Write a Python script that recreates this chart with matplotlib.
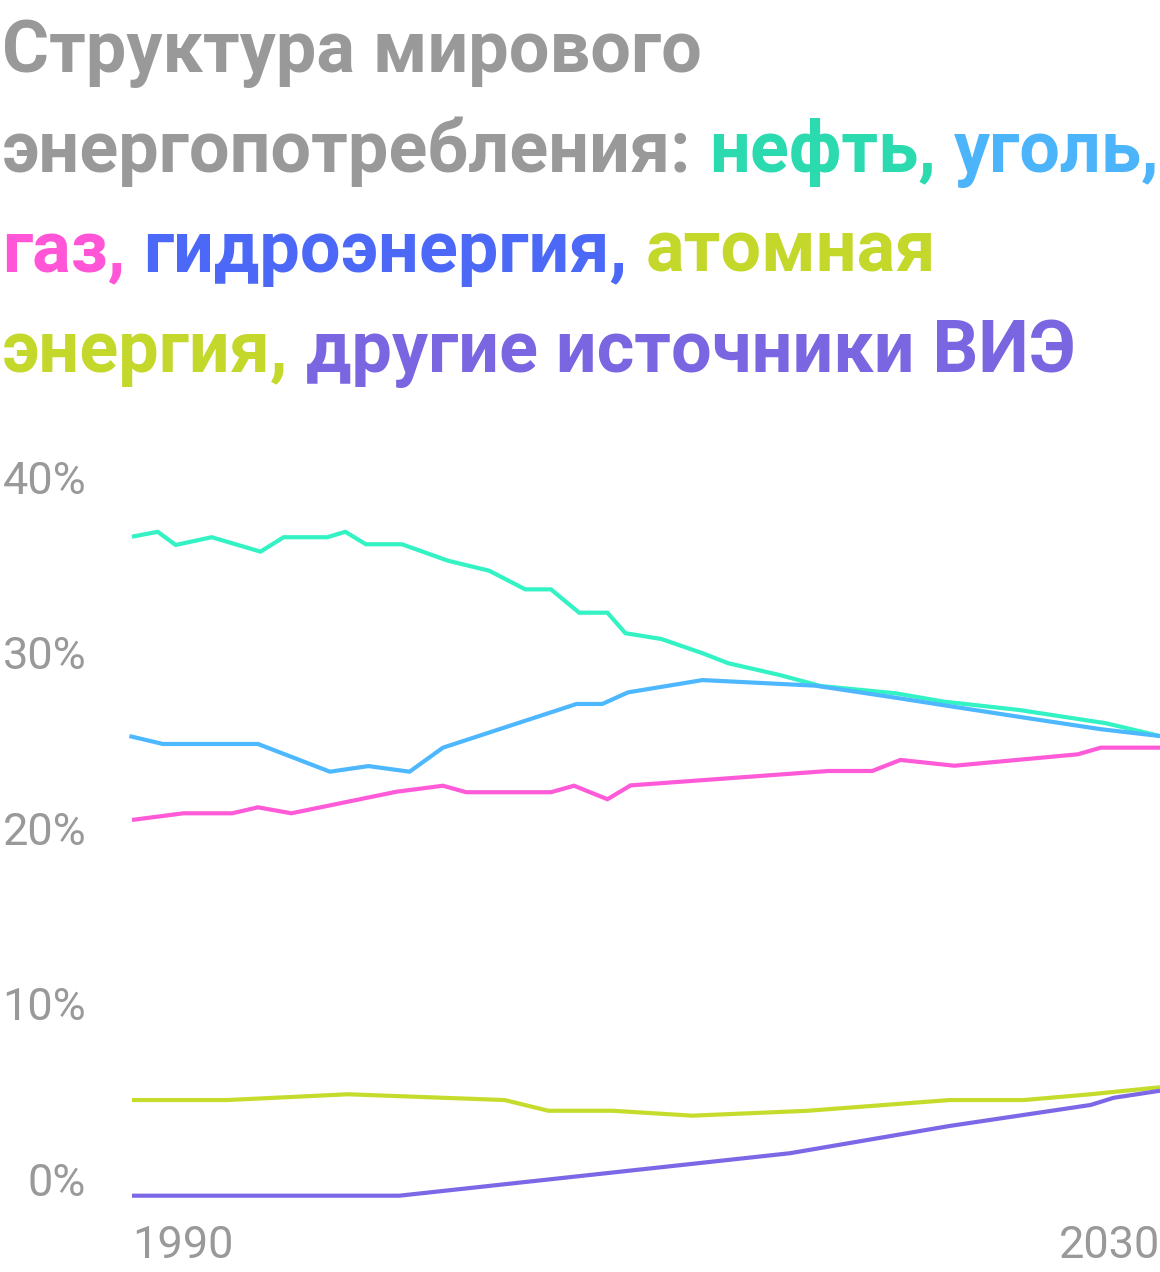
import matplotlib
matplotlib.use("Agg")
import matplotlib.pyplot as plt

# ---------------- data (share of world energy consumption, %) ----------------
oil_years = [1990.0, 1991.0, 1991.7, 1993.1, 1995.0, 1995.9, 1997.6, 1998.3, 1999.1,
             2000.5, 2002.3, 2003.9, 2005.3, 2006.3, 2007.4, 2008.5, 2009.2, 2010.6,
             2012.2, 2013.2, 2015.2, 2016.8, 2019.7, 2021.6, 2024.5, 2027.9, 2030.0]
oil = [37.55, 37.83, 37.08, 37.52, 36.70, 37.52, 37.52, 37.83, 37.12,
       37.12, 36.18, 35.61, 34.55, 34.55, 33.22, 33.22, 32.05, 31.72,
       30.91, 30.34, 29.67, 29.04, 28.63, 28.15, 27.68, 26.92, 26.19]

coal_years = [1989.9, 1991.2, 1994.9, 1997.7, 1999.2, 2000.8, 2002.1, 2007.3, 2008.3,
              2009.3, 2012.2, 2016.6, 2019.6, 2022.1, 2024.9, 2027.7, 2030.0]
coal = [26.19, 25.74, 25.74, 24.16, 24.48, 24.16, 25.53, 28.02, 28.02,
        28.68, 29.38, 29.06, 28.40, 27.83, 27.20, 26.58, 26.19]

gas_years = [1990.0, 1992.0, 1993.9, 1994.9, 1996.2, 2000.3, 2002.1, 2003.0, 2006.3,
             2007.2, 2008.5, 2009.4, 2017.1, 2018.8, 2019.9, 2022.0, 2026.8, 2027.7, 2030.0]
gas = [21.41, 21.79, 21.79, 22.13, 21.79, 23.02, 23.36, 22.99, 22.99,
       23.36, 22.59, 23.38, 24.20, 24.20, 24.83, 24.50, 25.15, 25.53, 25.53]

nuclear_years = [1990.0, 1993.7, 1998.4, 2004.5, 2006.2, 2008.7, 2011.8, 2016.3,
                 2021.8, 2024.7, 2027.3, 2030.0]
nuclear = [5.45, 5.45, 5.78, 5.45, 4.84, 4.84, 4.56, 4.84, 5.45, 5.45, 5.78, 6.18]

renew_years = [1990.0, 2000.4, 2015.6, 2021.8, 2027.3, 2028.2, 2030.0]
renew = [0.0, 0.0, 2.42, 3.97, 5.17, 5.58, 5.98]

y_ticks = [0, 10, 20, 30, 40]
y_tick_labels = ["0%", "10%", "20%", "30%", "40%"]
x_ticks = [1990, 2030]
x_tick_labels = ["1990", "2030"]

# ---------------- style ----------------
W, H, DPI = 1160, 1272, 100
GRAY = "#999999"
C_OIL_T, C_OIL = "#2cdab0", "#33f2c4"
C_COAL_T, C_COAL = "#4cb4fb", "#4db8ff"
C_GAS_T, C_GAS = "#ff55d6", "#ff5ad8"
C_HYDRO_T = "#4b68f6"
C_NUC_T, C_NUC = "#c3d82a", "#c5dc2c"
C_REN_T, C_REN = "#7a66e0", "#7b68e6"
FONT = ["Roboto", "DejaVu Sans"]

plt.rcParams["font.family"] = FONT

fig = plt.figure(figsize=(W / DPI, H / DPI), dpi=DPI)
fig.patch.set_facecolor("white")

# axes placement in pixels
ax_l, ax_r = 132, 1160
ax_b, ax_t = 1195.7, 493.7
ax = fig.add_axes([ax_l / W, (H - ax_b) / H, (ax_r - ax_l) / W, (ax_b - ax_t) / H])
ax.set_xlim(1990, 2030)
ax.set_ylim(0, 40)
for s in ax.spines.values():
    s.set_visible(False)
ax.set_facecolor("none")

lw = 3.0
for xs, ys, c in [(oil_years, oil, C_OIL), (coal_years, coal, C_COAL),
                  (gas_years, gas, C_GAS), (nuclear_years, nuclear, C_NUC),
                  (renew_years, renew, C_REN)]:
    ax.plot(xs, ys, color=c, lw=lw, clip_on=False, solid_joinstyle="miter",
            solid_capstyle="butt")

ax.set_yticks(y_ticks)
ax.set_yticklabels(y_tick_labels)
ax.set_xticks(x_ticks)
ax.set_xticklabels(x_tick_labels)
ax.tick_params(axis="both", length=0, colors=GRAY, labelsize=32.5)
ax.tick_params(axis="y", pad=33)
ax.tick_params(axis="x", pad=44.5)
for lab in ax.get_yticklabels():
    lab.set_va("baseline")
    lab.set_ha("right")
xl = ax.get_xticklabels()
for lab in xl:
    lab.set_va("baseline")
xl[0].set_ha("left")
xl[-1].set_ha("right")

# ---------------- multi-coloured title ----------------
FS = 51.8
fig.canvas.draw()
r = fig.canvas.get_renderer()


def width(s):
    t = fig.text(0, 0, s, fontsize=FS, fontweight="bold", family=FONT)
    w = t.get_window_extent(r).width
    t.remove()
    return w


space_w = width("н н") - width("нн")

lines = [
    [("Структура мирового", GRAY)],
    [("энергопотребления:", GRAY), ("нефть,", C_OIL_T), ("уголь,", C_COAL_T)],
    [("газ,", C_GAS_T), ("гидроэнергия,", C_HYDRO_T), ("атомная", C_NUC_T)],
    [("энергия,", C_NUC_T), ("другие источники ВИЭ", C_REN_T)],
]
baselines = [72, 172, 272, 372]
for pieces, yb in zip(lines, baselines):
    x = 2
    for txt, col in pieces:
        t = fig.text(x / W, 1 - yb / H, txt, color=col, fontsize=FS,
                     fontweight="bold", family=FONT, ha="left", va="baseline")
        x += t.get_window_extent(r).width + space_w

fig.savefig("out.png", dpi=DPI, facecolor="white")
